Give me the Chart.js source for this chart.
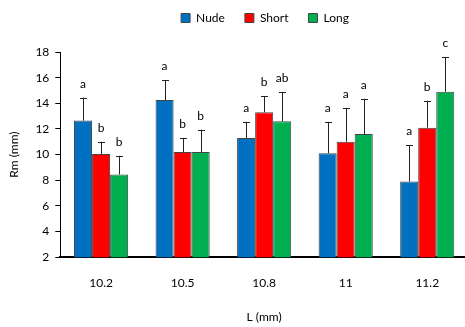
<!DOCTYPE html>
<html>
<head>
<meta charset="utf-8">
<script src="https://cdn.jsdelivr.net/npm/chart.js@4"></script>
<style>
html,body{margin:0;padding:0;background:#fff;overflow:hidden;}
#wrap{width:530px;height:327px;}
</style>
</head>
<body>
<div id="wrap"><canvas id="c" width="530" height="327"></canvas></div>
<script>
const categories = ['10.2', '10.5', '10.8', '11', '11.2'];
const seriesNames = ['Nude', 'Short', 'Long'];
const nudeMean = [12.65, 14.25, 11.3, 10.1, 7.9];
const shortMean = [10.05, 10.2, 13.3, 11.0, 12.1];
const longMean = [8.45, 10.2, 12.6, 11.6, 14.9];
const nudeSD = [1.8, 1.55, 1.25, 2.45, 2.85];
const shortSD = [0.95, 1.1, 1.25, 2.6, 2.1];
const longSD = [1.45, 1.75, 2.25, 2.75, 2.7];
const nudeLetters = ['a', 'a', 'a', 'a', 'a'];
const shortLetters = ['b', 'b', 'b', 'a', 'b'];
const longLetters = ['b', 'b', 'ab', 'a', 'c'];
const yTicks = [2, 4, 6, 8, 10, 12, 14, 16, 18];

const FONT = 'Lato';
const colors = ['#0070C0', '#FF0000', '#00B050'];
const sds = [nudeSD, shortSD, longSD];
const letters = [nudeLetters, shortLetters, longLetters];

const legendSpace = {
  id: 'legendSpace',
  beforeInit(chart) {
    const orig = chart.legend.fit;
    chart.legend.fit = function () {
      orig.call(this);
      this.height += 18;
    };
  }
};

const errPlugin = {
  id: 'errbars',
  afterDatasetsDraw(chart) {
    const ctx = chart.ctx;
    const y = chart.scales.y;
    ctx.save();
    chart.data.datasets.forEach((ds, di) => {
      const meta = chart.getDatasetMeta(di);
      meta.data.forEach((bar, i) => {
        const top = ds.data[i] + sds[di][i];
        const x = bar.x;
        const yb = bar.y;
        const yt = y.getPixelForValue(top);
        ctx.strokeStyle = '#222';
        ctx.lineWidth = 1;
        ctx.beginPath();
        ctx.moveTo(Math.round(x) + 0.5, yb);
        ctx.lineTo(Math.round(x) + 0.5, yt);
        ctx.moveTo(Math.round(x) - 3, Math.round(yt) + 0.5);
        ctx.lineTo(Math.round(x) + 4, Math.round(yt) + 0.5);
        ctx.stroke();
        ctx.fillStyle = '#000';
        ctx.font = '12px ' + FONT;
        ctx.textAlign = 'center';
        ctx.textBaseline = 'alphabetic';
        ctx.fillText(letters[di][i], x, yt - 10);
      });
    });
    ctx.restore();
  }
};

new Chart(document.getElementById('c'), {
  type: 'bar',
  data: {
    labels: categories,
    datasets: [
      { label: seriesNames[0], data: nudeMean, backgroundColor: colors[0] },
      { label: seriesNames[1], data: shortMean, backgroundColor: colors[1] },
      { label: seriesNames[2], data: longMean, backgroundColor: colors[2] }
    ].map(d => Object.assign(d, { borderColor: '#444', borderWidth: 1, borderSkipped: 'bottom' }))
  },
  options: {
    responsive: false,
    devicePixelRatio: 1,
    animation: false,
    layout: { padding: { left: 0, right: 0, top: -8, bottom: 3 } },
    datasets: { bar: { categoryPercentage: 0.664, barPercentage: 1.0 } },
    plugins: {
      legend: {
        display: true,
        position: 'top',
        labels: {
          boxWidth: 9, boxHeight: 9, padding: 20,
          color: '#000',
          font: { family: FONT, size: 12 }
        }
      },
      tooltip: { enabled: false }
    },
    scales: {
      x: {
        grid: { display: false, drawTicks: false },
        border: { display: true, color: '#000', width: 2 },
        ticks: { color: '#000', font: { family: FONT, size: 12 }, padding: 19 },
        title: { display: true, text: 'L (mm)', color: '#000', font: { family: FONT, size: 12 }, padding: { top: 0, bottom: 0 } }
      },
      y: {
        min: 2, max: 18,
        afterBuildTicks(scale) { scale.ticks = yTicks.map(v => ({ value: v })); },
        grid: { drawOnChartArea: false, drawTicks: true, tickLength: 5, color: '#000' },
        border: { display: true, color: '#000', width: 1 },
        ticks: { color: '#000', font: { family: FONT, size: 12 }, padding: 6 },
        title: { display: true, text: 'Rm (mm)', color: '#000', font: { family: FONT, size: 12 }, padding: { top: 7, bottom: 8 } }
      },
      yRight: {
        position: 'right',
        display: true,
        grid: { display: false, drawTicks: false },
        border: { display: false },
        ticks: { display: false },
        afterFit(scale) { scale.width = 62; }
      }
    }
  },
  plugins: [errPlugin, legendSpace]
});
</script>
</body>
</html>
